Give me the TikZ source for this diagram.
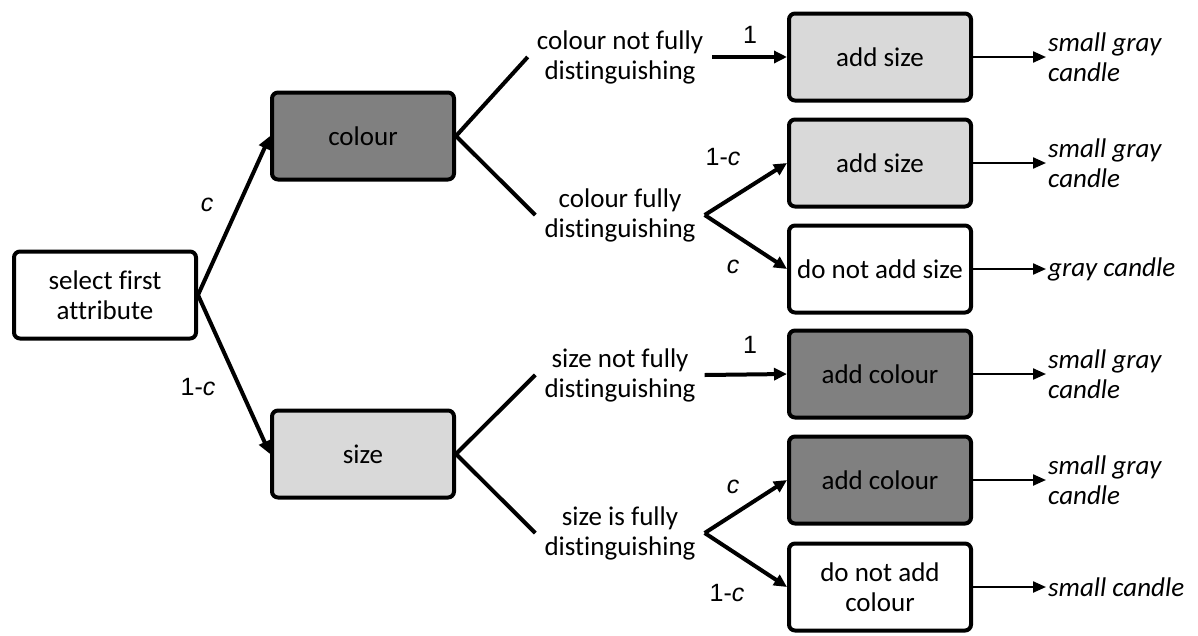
\documentclass[tikz,border=0pt]{standalone}
\usepackage{fontspec}
\setmainfont{Carlito}[Ligatures=NoCommon]
\newfontfamily\labfont{Liberation Sans}
\usetikzlibrary{arrows.meta}
\definecolor{darkbox}{HTML}{808080}
\definecolor{lightbox}{HTML}{D9D9D9}
\tikzset{
  box/.style={draw=black, line width=4pt, rounded corners=6pt, minimum width=182pt, minimum height=87pt, align=center, inner sep=2pt, font=\fontsize{27}{30}\selectfont},
  darkfill/.style={fill=darkbox},
  lightfill/.style={fill=lightbox},
  whitefill/.style={fill=white},
  cond/.style={align=center, inner xsep=9pt, inner ysep=4pt, font=\fontsize{27}{30}\selectfont},
  outtxt/.style={align=left, anchor=west, inner sep=2pt, font=\fontsize{27}{30}\selectfont\itshape},
  prob/.style={font=\labfont\fontsize{25}{30}\selectfont, inner sep=1pt},
  thickarrow/.style={line width=4pt, -{Triangle[length=13pt,width=12pt]}},
  thickline/.style={line width=4pt},
  thinarrow/.style={line width=2.2pt, -{Triangle[length=13pt,width=11pt]}},
}
\begin{document}
\begin{tikzpicture}[x=1pt,y=-1pt]
\useasboundingbox (0,0) rectangle (1198,635);
% first level
\node[box, whitefill] (sel) at (105,295) {select first\\attribute};
\node[box, darkfill] (col) at (363,136) {colour};
\node[box, lightfill] (siz) at (363,454) {size};
% conditions
\node[cond] (cnf) at (620,57) {colour not fully\\distinguishing};
\node[cond] (cf) at (620,215) {colour fully\\distinguishing};
\node[cond] (snf) at (620,375) {size not fully\\distinguishing};
\node[cond] (sf) at (620,533) {size is fully\\distinguishing};
% right boxes
\node[box, lightfill] (b1) at (880,57) {add size};
\node[box, lightfill] (b2) at (880,163) {add size};
\node[box, whitefill] (b3) at (880,269) {do not add size};
\node[box, darkfill] (b4) at (880,374) {add colour};
\node[box, darkfill] (b5) at (880,480) {add colour};
\node[box, whitefill] (b6) at (880,587) {do not add\\colour};
% outcomes
\node[outtxt] (o1) at (1046,57) {small gray\\candle};
\node[outtxt] (o2) at (1046,163) {small gray\\candle};
\node[outtxt] (o3) at (1046,269) {gray candle};
\node[outtxt] (o4) at (1046,374) {small gray\\candle};
\node[outtxt] (o5) at (1046,480) {small gray\\candle};
\node[outtxt] (o6) at (1046,587) {small candle};
% connectors
\draw[thickarrow] (sel.east) -- (col.west);
\draw[thickarrow] (sel.east) -- (siz.west);
\draw[thickline] (col.east) -- (cnf.west);
\draw[thickline] (col.east) -- (cf.west);
\draw[thickline] (siz.east) -- (snf.west);
\draw[thickline] (siz.east) -- (sf.west);
\draw[thickarrow] (cnf.east) -- (b1.west);
\draw[thickarrow] (cf.east) -- (b2.west);
\draw[thickarrow] (cf.east) -- (b3.west);
\draw[thickarrow] (snf.east) -- (b4.west);
\draw[thickarrow] (sf.east) -- (b5.west);
\draw[thickarrow] (sf.east) -- (b6.west);
\foreach \i in {1,...,6} {\draw[thinarrow] (b\i.east) -- (o\i.west);}
% probability labels
\node[prob] (p1) at (207,205) {\textit{c}};
\node[prob] (p2) at (198,387) {1-\textit{c}};
\node[prob] (p3) at (750,35) {1};
\node[prob] (p4) at (723,157) {1-\textit{c}};
\node[prob] (p5) at (733,267) {\textit{c}};
\node[prob] (p6) at (750,345) {1};
\node[prob] (p7) at (733,487) {\textit{c}};
\node[prob] (p8) at (727,593) {1-\textit{c}};
\end{tikzpicture}
\end{document}
